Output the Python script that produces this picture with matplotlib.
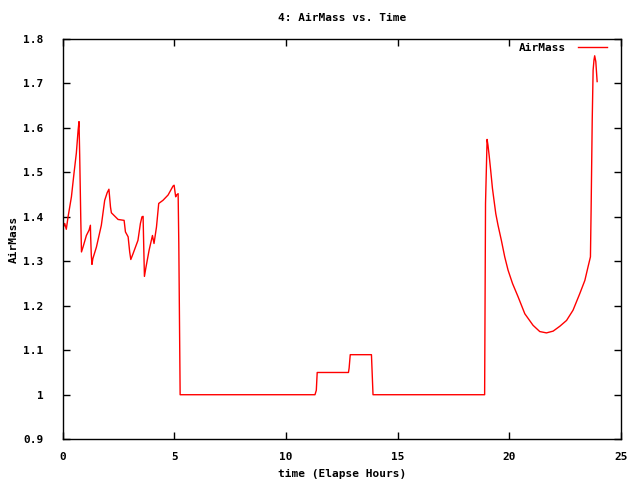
import matplotlib
matplotlib.use("Agg")
import matplotlib.pyplot as plt

# values (elapsed hours, airmass)
hours = [0.01, 0.09, 0.16, 0.24, 0.39, 0.51, 0.61, 0.69, 0.73, 0.76, 0.81, 0.84,
         0.91, 1.06, 1.18, 1.24, 1.25, 1.28, 1.31, 1.35, 1.51, 1.73, 1.88, 1.99,
         2.07, 2.14, 2.18, 2.48, 2.75, 2.81, 2.93, 3.00, 3.05, 3.15, 3.37, 3.48,
         3.55, 3.60, 3.63, 3.66, 3.72, 3.87, 4.02, 4.09, 4.20, 4.30, 4.49, 4.72,
         4.94, 4.99, 5.06, 5.10, 5.17, 5.20, 5.26,
         11.30, 11.36, 11.40, 12.80, 12.83, 12.88, 13.83, 13.90,
         18.90, 18.94, 19.01, 19.05, 19.10, 19.17, 19.25, 19.31, 19.40, 19.50,
         19.65, 19.80, 19.95, 20.15, 20.40, 20.70, 21.07, 21.37, 21.67, 21.97,
         22.27, 22.57, 22.86, 23.16, 23.39, 23.53, 23.64, 23.67, 23.72, 23.76,
         23.80, 23.83, 23.88, 23.94]
airmass = [1.374, 1.385, 1.372, 1.40, 1.445, 1.50, 1.543, 1.595, 1.614, 1.539, 1.392, 1.321,
           1.332, 1.358, 1.37, 1.381, 1.358, 1.314, 1.293, 1.306, 1.332, 1.381, 1.437, 1.454,
           1.462, 1.422, 1.409, 1.394, 1.392, 1.366, 1.355, 1.321, 1.304, 1.317, 1.347, 1.385,
           1.40, 1.401, 1.332, 1.266, 1.284, 1.325, 1.358, 1.34, 1.377, 1.43, 1.437, 1.449,
           1.469, 1.471, 1.445, 1.449, 1.452, 1.34, 1.0,
           1.0, 1.01, 1.05, 1.05, 1.06, 1.09, 1.09, 1.0,
           1.0, 1.43, 1.574, 1.561, 1.539, 1.505, 1.464, 1.441, 1.407, 1.381,
           1.347, 1.31, 1.28, 1.25, 1.22, 1.182, 1.156, 1.142, 1.139, 1.143,
           1.154, 1.167, 1.19, 1.227, 1.257, 1.287, 1.31, 1.415, 1.618, 1.73,
           1.753, 1.762, 1.749, 1.704]

plt.rcParams['font.family'] = ['DejaVu Sans Mono']
plt.rcParams['font.weight'] = 'bold'
plt.rcParams['font.size'] = 8

fig = plt.figure(figsize=(6.4, 4.8), dpi=100)
ax = fig.add_axes([0.098, 0.085, 0.872, 0.834])
ax.plot(hours, airmass, color='red', lw=1, label='AirMass')

ax.set_xlim(0, 25)
ax.set_ylim(0.9, 1.8)
ax.set_xticks([0, 5, 10, 15, 20, 25])
ax.set_yticks([0.9, 1.0, 1.1, 1.2, 1.3, 1.4, 1.5, 1.6, 1.7, 1.8])
ax.set_yticklabels(['0.9', '1', '1.1', '1.2', '1.3', '1.4', '1.5', '1.6', '1.7', '1.8'])
ax.tick_params(direction='in', top=True, right=True, length=5, width=1)
ax.tick_params(axis='x', pad=9)
ax.tick_params(axis='y', pad=14)
for s in ax.spines.values():
    s.set_linewidth(1)

ax.set_title('4: AirMass vs. Time', fontsize=8, fontweight='bold', pad=13)
ax.set_xlabel('time (Elapse Hours)', fontweight='bold', labelpad=5)
ax.set_ylabel('AirMass', fontweight='bold', labelpad=3)
ax.legend(loc='upper right', bbox_to_anchor=(0.987, 1.006), frameon=False,
          markerfirst=False, handlelength=2.6, borderaxespad=0.2, handletextpad=1.1)

fig.savefig('out.png', dpi=100)
